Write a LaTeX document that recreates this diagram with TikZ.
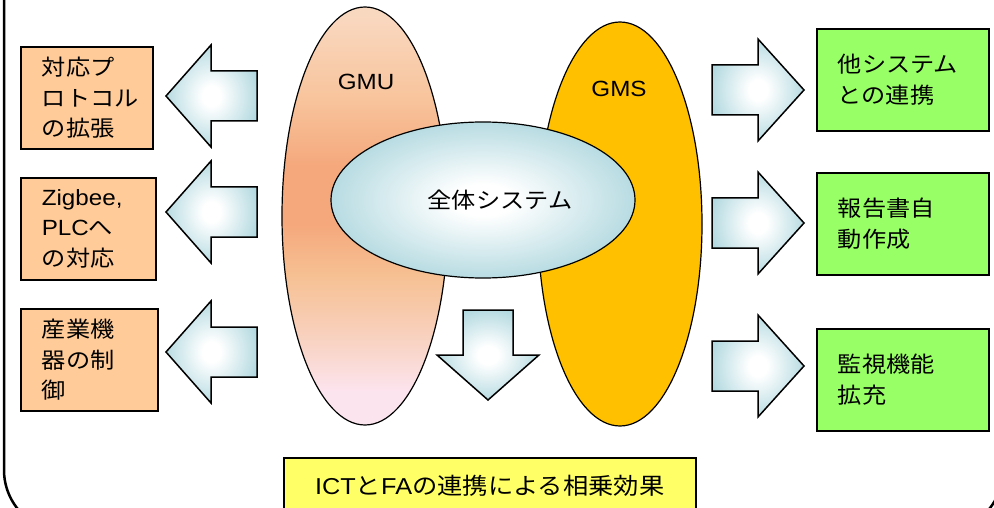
\documentclass[tikz,border=0pt]{standalone}
\usepackage{fontspec}
\setmainfont[FakeStretch=1.1]{Noto Sans CJK JP}
\newfontfamily\lat[FakeStretch=1.1]{Liberation Sans}
\usetikzlibrary{shapes.geometric}
\definecolor{orangebox}{HTML}{FFCC99}
\definecolor{greenbox}{HTML}{99FF66}
\definecolor{yellowbox}{HTML}{FFFF66}
\definecolor{gmscol}{HTML}{FFC000}
\definecolor{arrowblue}{HTML}{B0D8DF}
\definecolor{gmuA}{HTML}{F5A87C}
\definecolor{gmuB}{HTML}{F6C092}
\definecolor{gmuC}{HTML}{F8C49C}
\definecolor{gmuTop}{HTML}{F9D8C0}
\definecolor{gmuLow}{HTML}{F8D0BC}
\definecolor{gmuBot}{HTML}{FCE4EE}
\pgfdeclareradialshading{softblue}{\pgfpoint{0bp}{0bp}}{color(0bp)=(white); color(5bp)=(white); color(27bp)=(arrowblue); color(100bp)=(arrowblue)}
\pgfdeclareverticalshading{gmushade}{100bp}{color(0bp)=(gmuBot); color(29bp)=(gmuBot); color(36bp)=(gmuLow); color(43bp)=(gmuB); color(49bp)=(gmuA); color(56bp)=(gmuA); color(64bp)=(gmuC); color(74bp)=(gmuTop); color(100bp)=(gmuTop)}
\tikzset{
  txt/.style={font=\fontsize{22}{30.5}\selectfont},
  infobox/.style={txt, draw, line width=1.6pt, align=left, inner xsep=21pt, inner ysep=0pt, anchor=north west},
  leftbox/.style={infobox, fill=orangebox, minimum height=102pt},
  rightbox/.style={infobox, fill=greenbox, minimum height=102pt, text width=130pt},
  blockarrow/.style={draw, line width=1.5pt, line join=miter, shade, shading=softblue},
}
\newcommand\myLArrow[1]{%
  \path[blockarrow] (166,#1) -- (211,#1-51) -- (211,#1-25) -- (257,#1-25) -- (257,#1+25) -- (211,#1+25) -- (211,#1+51) -- cycle;}
\newcommand\myRArrow[1]{%
  \path[blockarrow] (804,#1) -- (758,#1-51) -- (758,#1-25) -- (712,#1-25) -- (712,#1+25) -- (758,#1+25) -- (758,#1+51) -- cycle;}
\begin{document}
\begin{tikzpicture}[x=1pt,y=-1pt]
\useasboundingbox (0,0) rectangle (994,508);
\clip (0,0) rectangle (994,508);
% outer frame
\draw[line width=2.5pt, rounded corners=62pt] (4,-80) rectangle (1003,532);
% ellipses
\node (gmu) [ellipse, draw, line width=1.2pt, minimum width=166pt, minimum height=418pt, inner sep=0pt,
  shade, shading=gmushade] at (365,216) {};
\node (gms) [ellipse, draw, line width=1.2pt, fill=gmscol, minimum width=164pt, minimum height=404pt, inner sep=0pt] at (620,224) {};
\node (whole) [ellipse, draw, line width=1.2pt, shade, shading=softblue, minimum width=304pt, minimum height=156pt, inner sep=0pt] at (483,200) {};
\node[txt] (wholelbl) at (500,200) {全体システム};
\node[txt] (gmulbl) at (366,82) {\lat GMU};
\node[txt] (gmslbl) at (619,89) {\lat GMS};
% arrows
\myLArrow{96}
\myLArrow{212}
\myLArrow{352}
\myRArrow{90}
\myRArrow{223}
\myRArrow{366}
\path[blockarrow] (488,400) -- (437,355) -- (463,355) -- (463,310) -- (513,310) -- (513,355) -- (539,355) -- cycle;
% left boxes
\node[leftbox, text width=90pt] (l1) at (20,46) {対応プ\\ロトコル\\の拡張};
\node[leftbox, text width=93pt] (l2) at (20,177) {{\lat Zigbee,}\\{\lat PLC}へ\\の対応};
\node[leftbox, text width=95pt] (l3) at (20,308) {産業機\\器の制\\御};
% right boxes
\node[rightbox] (r1) at (816,28) {他システム\\との連携};
\node[rightbox] (r2) at (816,172) {報告書自\\動作成};
\node[rightbox] (r3) at (816,328) {監視機能\\拡充};
% bottom box
\node[draw, line width=1.6pt, fill=yellowbox, anchor=north west, minimum width=412pt, minimum height=56pt, inner sep=0pt,
  font=\fontsize{23}{30}\selectfont] (result) at (283,457) {{\lat ICT}と{\lat FA}の連携による相乗効果};
\end{tikzpicture}
\end{document}
